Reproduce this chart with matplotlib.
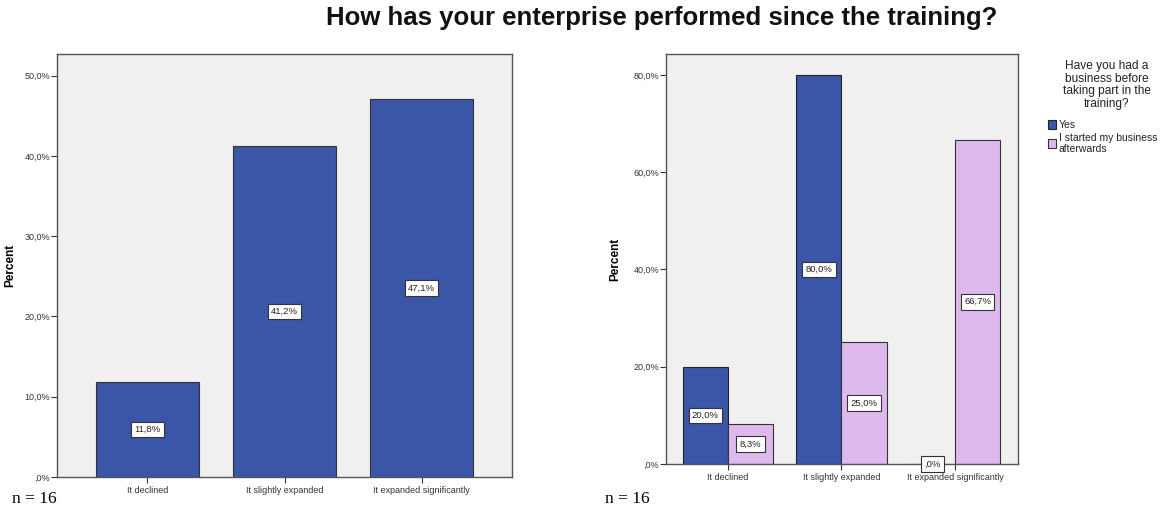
import matplotlib
matplotlib.use("Agg")
import matplotlib.pyplot as plt
import numpy as np

plt.rcParams['font.family'] = ['Liberation Sans', 'DejaVu Sans']

categories = ["It declined", "It slightly expanded", "It expanded significantly"]
overall_pct = [11.8, 41.2, 47.1]
yes_pct = [20.0, 80.0, 0.0]
after_pct = [8.3, 25.0, 66.7]
left_yticks = [0, 10, 20, 30, 40, 50]
left_yticklabels = [",0%", "10,0%", "20,0%", "30,0%", "40,0%", "50,0%"]
right_yticks = [0, 20, 40, 60, 80]
right_yticklabels = [",0%", "20,0%", "40,0%", "60,0%", "80,0%"]
legend_title = "Have you had a\nbusiness before\ntaking part in the\ntraining?"
series_names = ["Yes", "I started my business\nafterwards"]

BLUE = "#3B55A8"
PINK = "#DDB9EE"
BG = "#F0F0F0"
W, H = 1162, 509

fig = plt.figure(figsize=(W / 100, H / 100), dpi=100)

def ax_rect(x0, y0, x1, y1):
    return [x0 / W, 1 - y1 / H, (x1 - x0) / W, (y1 - y0) / H]

def fmt(v):
    if v == 0:
        return ",0%"
    return f"{v:.1f}".replace(".", ",") + "%"

def style(ax):
    ax.set_facecolor(BG)
    for s in ax.spines.values():
        s.set_color("#555555")
        s.set_linewidth(1.0)
    ax.tick_params(axis="y", length=4, width=0.8, color="#333333", labelsize=6.5,
                   labelcolor="#333333", pad=1)
    ax.tick_params(axis="x", length=4, width=0.8, color="#333333", labelsize=6.5,
                   labelcolor="#333333", pad=2.5)
    ax.set_ylabel("Percent", fontsize=8.5, fontweight="bold")

def label(ax, x, y, txt):
    ax.text(x, y, txt, ha="center", va="center", fontsize=6.8, color="#222222", zorder=4,
            bbox=dict(boxstyle="square,pad=0.35", fc="white", ec="#333333", lw=0.8))

# Left chart
ax1 = fig.add_axes(ax_rect(57, 54, 512, 477))
style(ax1)
x = np.arange(len(categories))
ax1.bar(x, overall_pct, width=0.75, color=BLUE, edgecolor="#333333", linewidth=0.8, zorder=2)
for xi, v in zip(x, overall_pct):
    label(ax1, xi, v / 2, fmt(v))
ax1.set_xlim(-0.66, 2.66)
ax1.set_ylim(0, 52.7)
ax1.set_yticks(left_yticks)
ax1.set_yticklabels(left_yticklabels)
ax1.set_xticks(x)
ax1.set_xticklabels(categories)
ax1.yaxis.set_label_coords(-0.09, 0.5)

# Right chart
ax2 = fig.add_axes(ax_rect(666, 54, 1018, 464))
style(ax2)
bw = 0.397
ax2.bar(x - bw / 2, yes_pct, width=bw, color=BLUE, edgecolor="#222222", linewidth=0.8,
        zorder=2, label=series_names[0])
ax2.bar(x + bw / 2, after_pct, width=bw, color=PINK, edgecolor="#333333", linewidth=0.8,
        zorder=2, label=series_names[1])
for xi, v in zip(x, yes_pct):
    label(ax2, xi - bw / 2, v / 2, fmt(v))
for xi, v in zip(x, after_pct):
    label(ax2, xi + bw / 2, v / 2, fmt(v))
ax2.set_xlim(-0.546, 2.555)
ax2.set_ylim(0, 84.3)
ax2.set_yticks(right_yticks)
ax2.set_yticklabels(right_yticklabels)
ax2.set_xticks(x)
ax2.set_xticklabels(categories)
ax2.yaxis.set_label_coords(-0.128, 0.5)

# Legend (title drawn separately, centred over the legend column)
fig.text(1107 / W, 1 - 85 / H, legend_title, ha="center", va="center",
         fontsize=8.6, linespacing=1.05, color="#222222")
leg = fig.legend(loc="upper left", bbox_to_anchor=(1048 / W, 1 - 120 / H), frameon=False,
                 fontsize=7.5, handlelength=0.75, handleheight=0.9, handletextpad=0.3,
                 labelspacing=0.25, borderaxespad=0, borderpad=0)
for t in leg.get_texts():
    t.set_color("#222222")

fig.text(662 / W, 1 - 18 / H, "How has your enterprise performed since the training?",
         ha="center", va="center", fontsize=18.5, fontweight="bold", color="#111111")
fig.text(12 / W, 1 - 499 / H, "n = 16", ha="left", va="center", fontsize=12.5,
         family="Liberation Serif")
fig.text(605 / W, 1 - 499 / H, "n = 16", ha="left", va="center", fontsize=12.5,
         family="Liberation Serif")

fig.savefig("out.png", dpi=100, facecolor="white")
